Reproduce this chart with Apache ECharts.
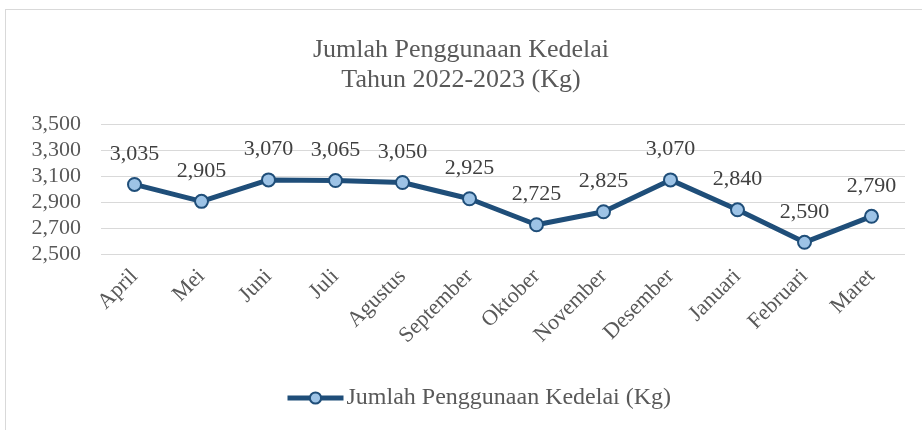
<!DOCTYPE html>
<html>
<head>
<meta charset="utf-8">
<script src="https://cdn.jsdelivr.net/npm/echarts@6/dist/echarts.min.js"></script>
<style>
html,body{margin:0;padding:0;background:#fff;}
#frame{position:absolute;left:5px;top:9px;width:930px;height:430px;border:1px solid #d9d9d9;box-sizing:border-box;}
#chart{position:absolute;left:0;top:0;width:922px;height:430px;}
</style>
</head>
<body>
<div id="frame"></div>
<div id="chart"></div>
<script>
var bulan = ['April','Mei','Juni','Juli','Agustus','September','Oktober','November','Desember','Januari','Februari','Maret'];
var penggunaan = [3035, 2905, 3070, 3065, 3050, 2925, 2725, 2825, 3070, 2840, 2590, 2790];
var namaSeri = 'Jumlah Penggunaan Kedelai (Kg)';

var font = '"Liberation Serif", "Times New Roman", serif';
var chart = echarts.init(document.getElementById('chart'));
chart.setOption({
  backgroundColor: 'transparent',
  textStyle: {fontFamily: font},
  title: {
    text: 'Jumlah Penggunaan Kedelai\nTahun 2022-2023 (Kg)',
    left: 'center',
    top: 30,
    textStyle: {fontFamily: font, fontSize: 26, fontWeight: 'normal', color: '#595959', lineHeight: 30}
  },
  legend: {
    data: [namaSeri],
    bottom: 15,
    left: 280,
    itemWidth: 56,
    itemHeight: 14,
    itemGap: 0,
    lineStyle: {width: 5},
    textStyle: {fontFamily: font, fontSize: 24, color: '#595959', padding: [0,0,0,-2]}
  },
  grid: {left: 101, right: 17, top: 124, bottom: 176},
  xAxis: {
    type: 'category',
    data: bulan,
    boundaryGap: true,
    axisLine: {show: false},
    axisTick: {show: false},
    axisLabel: {rotate: 45, fontFamily: font, fontSize: 22, color: '#595959', margin: 19, interval: 0}
  },
  yAxis: {
    type: 'value',
    min: 2500,
    max: 3500,
    interval: 200,
    axisLine: {show: false},
    axisTick: {show: false},
    splitLine: {lineStyle: {color: '#d9d9d9', width: 1}},
    axisLabel: {
      fontFamily: font, fontSize: 22, color: '#595959', margin: 20,
      formatter: function (v) { return v.toLocaleString('en-US'); }
    }
  },
  series: [{
    name: namaSeri,
    type: 'line',
    data: penggunaan,
    symbol: 'circle',
    symbolSize: 13,
    lineStyle: {color: '#1f4e79', width: 5},
    itemStyle: {color: '#9dc3e6', borderColor: '#1f4e79', borderWidth: 2},
    label: {
      show: true,
      position: 'top',
      distance: 12,
      fontFamily: font,
      fontSize: 22,
      color: '#404040',
      formatter: function (p) { return p.value.toLocaleString('en-US'); }
    },
    animation: false
  }],
  animation: false
});
</script>
</body>
</html>
